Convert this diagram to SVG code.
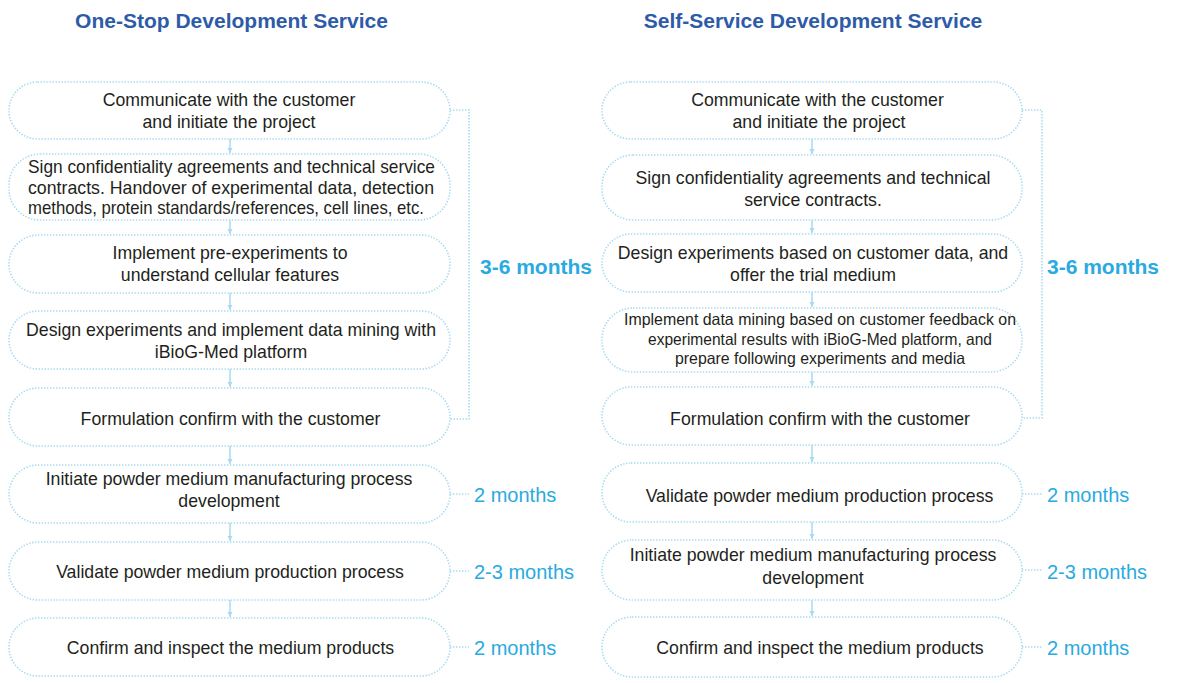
<svg xmlns="http://www.w3.org/2000/svg" width="1200" height="683" viewBox="0 0 1200 683">
<defs>
<style>
.box{fill:#fff;stroke:#a9daf2;stroke-width:1.6;stroke-dasharray:1.4 1.6}
.t{font-family:"Liberation Sans",Arial,sans-serif;font-size:17.7px;fill:#231f20;text-anchor:middle}
.c{font-family:"Liberation Sans",Arial,sans-serif;font-size:16.5px;fill:#231f20;text-anchor:middle}
.title{font-family:"Liberation Sans",Arial,sans-serif;font-size:21px;font-weight:bold;fill:#2e5ba8;text-anchor:middle}
.big{font-family:"Liberation Sans",Arial,sans-serif;font-size:21px;font-weight:bold;fill:#29aae1}
.mon{font-family:"Liberation Sans",Arial,sans-serif;font-size:20px;fill:#29aae1}
.ln{fill:none;stroke:#a9daf2;stroke-width:1.6;stroke-dasharray:1.4 1.6}
.ar{stroke:#a9daf2;stroke-width:1.5}
</style>
<marker id="ah" markerWidth="6" markerHeight="6" refX="5" refY="3" orient="auto" markerUnits="userSpaceOnUse">
<path d="M0,0.5 L5,3 L0,5.5 Z" fill="#a9daf2"/>
</marker>
</defs>
<rect width="1200" height="683" fill="#fff"/>
<text class="title" x="231.5" y="28">One-Stop Development Service</text>
<text class="title" x="813" y="28">Self-Service Development Service</text>

<g id="connectors">
<line class="ar" x1="230" y1="139" x2="230" y2="153" marker-end="url(#ah)"/>
<line class="ar" x1="230" y1="220" x2="230" y2="234" marker-end="url(#ah)"/>
<line class="ar" x1="230" y1="293" x2="230" y2="310" marker-end="url(#ah)"/>
<line class="ar" x1="230" y1="369" x2="230" y2="387" marker-end="url(#ah)"/>
<line class="ar" x1="230" y1="446" x2="230" y2="464" marker-end="url(#ah)"/>
<line class="ar" x1="230" y1="523" x2="230" y2="541" marker-end="url(#ah)"/>
<line class="ar" x1="230" y1="600" x2="230" y2="617" marker-end="url(#ah)"/>
<line class="ar" x1="812" y1="139" x2="812" y2="154" marker-end="url(#ah)"/>
<line class="ar" x1="812" y1="220" x2="812" y2="233" marker-end="url(#ah)"/>
<line class="ar" x1="812" y1="292" x2="812" y2="307" marker-end="url(#ah)"/>
<line class="ar" x1="812" y1="372" x2="812" y2="386" marker-end="url(#ah)"/>
<line class="ar" x1="812" y1="445" x2="812" y2="462" marker-end="url(#ah)"/>
<line class="ar" x1="812" y1="521" x2="812" y2="539" marker-end="url(#ah)"/>
<line class="ar" x1="812" y1="599" x2="812" y2="616" marker-end="url(#ah)"/>
<polyline class="ln" points="450,110 469,110 469,419 450,419"/>
<line class="ln" x1="450" y1="494" x2="469" y2="494"/>
<line class="ln" x1="450" y1="571" x2="469" y2="571"/>
<line class="ln" x1="450" y1="647" x2="469" y2="647"/>
<polyline class="ln" points="1022,110 1042,110 1042,418 1022,418"/>
<line class="ln" x1="1022" y1="494" x2="1042" y2="494"/>
<line class="ln" x1="1022" y1="570" x2="1042" y2="570"/>
<line class="ln" x1="1022" y1="647" x2="1042" y2="647"/>
</g>

<g id="L1"><rect class="box" x="9" y="82" width="441" height="57" rx="28.5"/>
<text class="t" x="229" y="106">Communicate with the customer</text>
<text class="t" x="229" y="128">and initiate the project</text></g>
<g id="L2"><rect class="box" x="9" y="154" width="441" height="66" rx="31"/>
<text class="t" x="231.5" y="173" textLength="407" lengthAdjust="spacingAndGlyphs">Sign confidentiality agreements and technical service</text>
<text class="t" x="231" y="194" textLength="406" lengthAdjust="spacingAndGlyphs">contracts. Handover of experimental data, detection</text>
<text class="t" x="226" y="214" textLength="396" lengthAdjust="spacingAndGlyphs">methods, protein standards/references, cell lines, etc.</text></g>
<g id="L3"><rect class="box" x="9" y="235" width="441" height="58" rx="29"/>
<text class="t" x="230" y="259">Implement pre-experiments to</text>
<text class="t" x="230" y="281">understand cellular features</text></g>
<g id="L4"><rect class="box" x="9" y="311" width="441" height="58" rx="29"/>
<text class="t" x="231" y="336">Design experiments and implement data mining with</text>
<text class="t" x="231" y="358">iBioG-Med platform</text></g>
<g id="L5"><rect class="box" x="9" y="388" width="441" height="58" rx="29"/>
<text class="t" x="230.5" y="425">Formulation confirm with the customer</text></g>
<g id="L6"><rect class="box" x="9" y="465" width="441" height="58" rx="29"/>
<text class="t" x="229" y="485">Initiate powder medium manufacturing process</text>
<text class="t" x="229" y="507">development</text></g>
<g id="L7"><rect class="box" x="9" y="542" width="441" height="58" rx="29"/>
<text class="t" x="230" y="578">Validate powder medium production process</text></g>
<g id="L8"><rect class="box" x="9" y="618" width="441" height="58" rx="29"/>
<text class="t" x="230.5" y="654">Confirm and inspect the medium products</text></g>

<g id="R1"><rect class="box" x="602" y="82" width="420" height="57" rx="28.5"/>
<text class="t" x="817.5" y="106">Communicate with the customer</text>
<text class="t" x="819" y="128">and initiate the project</text></g>
<g id="R2"><rect class="box" x="602" y="155" width="420" height="65" rx="31"/>
<text class="t" x="813" y="184">Sign confidentiality agreements and technical</text>
<text class="t" x="813" y="206">service contracts.</text></g>
<g id="R3"><rect class="box" x="602" y="234" width="420" height="58" rx="29"/>
<text class="t" x="813" y="259">Design experiments based on customer data, and</text>
<text class="t" x="813" y="281">offer the trial medium</text></g>
<g id="R4"><rect class="box" x="602" y="308" width="420" height="64" rx="31"/>
<text class="c" x="820" y="325" textLength="392" lengthAdjust="spacingAndGlyphs">Implement data mining based on customer feedback on</text>
<text class="c" x="820" y="345" textLength="344" lengthAdjust="spacingAndGlyphs">experimental results with iBioG-Med platform, and</text>
<text class="c" x="820" y="364" textLength="290" lengthAdjust="spacingAndGlyphs">prepare following experiments and media</text></g>
<g id="R5"><rect class="box" x="602" y="387" width="420" height="58" rx="29"/>
<text class="t" x="820" y="425">Formulation confirm with the customer</text></g>
<g id="R6"><rect class="box" x="602" y="463" width="420" height="59" rx="29"/>
<text class="t" x="819.5" y="502">Validate powder medium production process</text></g>
<g id="R7"><rect class="box" x="602" y="540" width="420" height="60" rx="30"/>
<text class="t" x="813" y="561">Initiate powder medium manufacturing process</text>
<text class="t" x="813" y="584">development</text></g>
<g id="R8"><rect class="box" x="602" y="617" width="420" height="60" rx="30"/>
<text class="t" x="820" y="654">Confirm and inspect the medium products</text></g>

<g id="labels">
<text class="big" x="480" y="274">3-6 months</text>
<text class="mon" x="474" y="502">2 months</text>
<text class="mon" x="474" y="579">2-3 months</text>
<text class="mon" x="474" y="655">2 months</text>
<text class="big" x="1047" y="274">3-6 months</text>
<text class="mon" x="1047" y="502">2 months</text>
<text class="mon" x="1047" y="579">2-3 months</text>
<text class="mon" x="1047" y="655">2 months</text>
</g>
</svg>
